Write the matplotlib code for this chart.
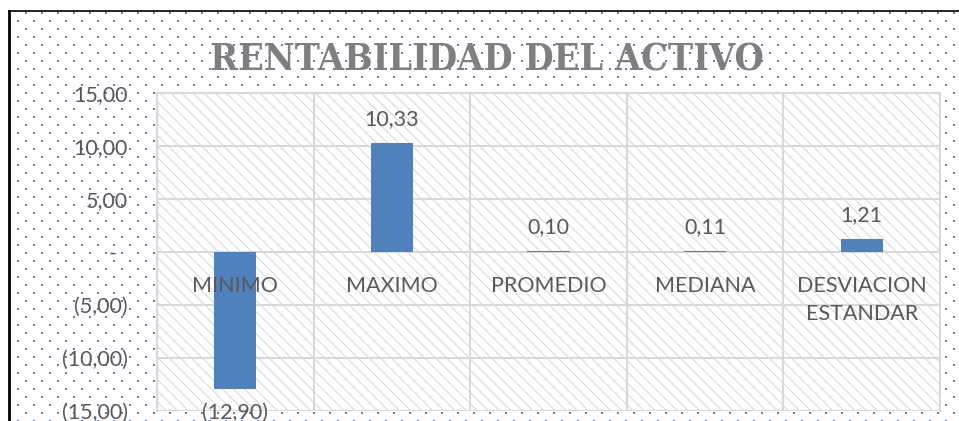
import numpy as np
import matplotlib
matplotlib.use("Agg")
import matplotlib.pyplot as plt
from matplotlib.patches import Rectangle
from matplotlib.lines import Line2D

categories = ["MINIMO", "MAXIMO", "PROMEDIO", "MEDIANA", "DESVIACION\nESTANDAR"]
values = [-12.90, 10.33, 0.10, 0.11, 1.21]
yticks = [-15, -10, -5, 0, 5, 10, 15]
title = "RENTABILIDAD DEL ACTIVO"

blue = "#4F81BD"
grid_gray = "#D9D9D9"
text_gray = "#595959"


def fmt(v):
    # excel accounting style: 1.234,50 / (5,00) / -
    if abs(v) < 1e-9:
        return "-  "
    s = f"{abs(v):,.2f}".replace(",", "X").replace(".", ",").replace("X", ".")
    return f"({s})" if v < 0 else s


plt.rcParams["font.family"] = ["Lato", "DejaVu Sans"]
plt.rcParams["hatch.color"] = "#DDDDDD"
plt.rcParams["hatch.linewidth"] = 0.8

W, H = 959, 421
fig = plt.figure(figsize=(W / 100, H / 100), dpi=100)

# dotted chart background (pixel coordinates)
xs, ys = [], []
for j, yy in enumerate(np.arange(13, H + 8, 8)):
    x0 = 26 if j % 2 == 0 else 18
    for xx in np.arange(x0, W + 16, 16):
        xs.append(xx)
        ys.append(yy)
xs = np.array(xs) / W
ys = 1 - np.array(ys) / H
fig.add_artist(Line2D(xs, ys, ls="none", marker="s", ms=1.5, mew=0,
                      color=blue, transform=fig.transFigure, zorder=0))

# frame lines at the top and left
fig.add_artist(Line2D([9 / W, 9 / W], [0, 1 - 11 / H], color="black", lw=2,
                      transform=fig.transFigure))
fig.add_artist(Line2D([9 / W, 1], [1 - 11 / H, 1 - 11 / H], color="black", lw=1.2,
                      transform=fig.transFigure))

ax = fig.add_axes([157 / W, 10 / H, (940 - 157) / W, (411 - 93) / H])
ax.set_facecolor("white")
ax.add_patch(Rectangle((0, 0), 1, 1, transform=ax.transAxes, facecolor="white",
                       edgecolor=grid_gray, hatch="\\\\\\", lw=0, zorder=0))

x = np.arange(len(categories))
bars = ax.bar(x, values, width=0.27, color=blue, zorder=3)
ax.bar_label(bars, labels=[fmt(v) for v in values], padding=10,
             fontsize=15.5, color=text_gray)

ax.set_xlim(-0.5, len(categories) - 0.5)
ax.set_ylim(-15, 15)
ax.set_yticks(yticks)
ax.set_yticklabels([fmt(v) for v in yticks])
ax.set_xticks(x)
ax.set_xticks(np.arange(-0.5, len(categories)), minor=True)

ax.spines["bottom"].set_position(("data", 0))
for s in ax.spines.values():
    s.set_visible(False)
ax.tick_params(axis="x", which="both", length=0, pad=17, labelsize=15.5,
               labelcolor=text_gray)
ax.tick_params(axis="y", length=0, pad=21, labelsize=15.5, labelcolor=text_gray)
ax.set_xticklabels(categories)
for lab in ax.get_xticklabels():
    lab.set_linespacing(1.55)

ax.grid(axis="y", color=grid_gray, lw=1.5)
ax.grid(axis="x", which="minor", color=grid_gray, lw=1.5)
ax.set_axisbelow(True)
ax.xaxis.set_zorder(4)  # category names sit on top of the bars
for s in ["top", "left", "right"]:
    ax.spines[s].set_visible(True)
    ax.spines[s].set_color(grid_gray)
    ax.spines[s].set_linewidth(1.5)

fig.text(487 / W, 1 - 60 / H, title, ha="center", va="center",
         family=["DejaVu Serif"], fontstretch="condensed", fontweight="bold",
         fontsize=27, color="#7F7F7F")

fig.savefig("out.png", dpi=100)
